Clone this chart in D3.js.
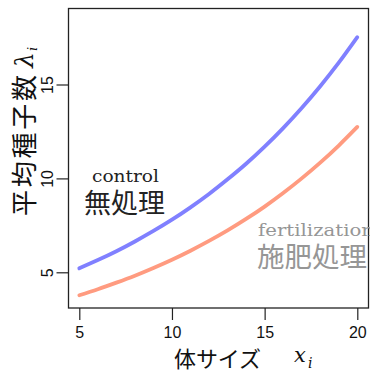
<!DOCTYPE html>
<html>
<head>
<meta charset="utf-8">
<script src="https://cdn.jsdelivr.net/npm/d3@7"></script>
<style>
  html, body { margin: 0; padding: 0; background: #fff; }
  svg { display: block; }
</style>
</head>
<body>
<script>
// Body size x (covariate) and expected seed count for each treatment
const bodySize = [5, 6, 7, 8, 9, 10, 11, 12, 13, 14, 15, 16, 17, 18, 19, 20];
const controlMean = [5.21, 5.65, 6.12, 6.64, 7.20, 7.80, 8.46, 9.17, 9.95, 10.78, 11.69, 12.68, 13.75, 14.91, 16.16, 17.52];
const fertilizedMean = [3.78, 4.10, 4.45, 4.82, 5.23, 5.67, 6.15, 6.67, 7.23, 7.84, 8.50, 9.22, 10.00, 10.84, 11.75, 12.74];
const xTicks = [5, 10, 15, 20];
const yTicks = [5, 10, 15];

const W = 370, H = 373;
const plot = { left: 68.5, top: 8.5, right: 368.5, bottom: 308 };

const svg = d3.select("body").append("svg")
  .attr("width", W).attr("height", H);

const x = d3.scaleLinear().domain([5, 20]).range([79.3, 357.3]);
const y = d3.scaleLinear().domain([5, 15]).range([272.3, 84.5]);

const JP = "Noto Sans CJK JP, Noto Sans CJK SC, sans-serif";
const SANS = "Liberation Sans, Arial, sans-serif";
const SERIF = "DejaVu Serif, Liberation Serif, serif";

// Curves
const line = d3.line()
  .x((d, i) => x(bodySize[i]))
  .y(d => y(d))
  .curve(d3.curveNatural);

svg.append("path").datum(controlMean)
  .attr("d", line)
  .attr("fill", "none")
  .attr("stroke", "#8080ff")
  .attr("stroke-width", 3.8)
  .attr("stroke-linecap", "round");

svg.append("path").datum(fertilizedMean)
  .attr("d", line)
  .attr("fill", "none")
  .attr("stroke", "#ff9b80")
  .attr("stroke-width", 3.8)
  .attr("stroke-linecap", "round");

// Frame
svg.append("rect")
  .attr("x", plot.left).attr("y", plot.top)
  .attr("width", plot.right - plot.left)
  .attr("height", plot.bottom - plot.top)
  .attr("fill", "none")
  .attr("stroke", "#222")
  .attr("stroke-width", 1.3);

// X axis
const xAxis = svg.append("g")
  .attr("transform", `translate(0,${plot.bottom})`)
  .call(d3.axisBottom(x).tickValues(xTicks).tickSize(12).tickPadding(6).tickFormat(d3.format("d")));
xAxis.select(".domain").remove();
xAxis.selectAll(".tick line").attr("stroke", "#222").attr("stroke-width", 1.2);
xAxis.selectAll(".tick text")
  .attr("font-family", SANS).attr("font-size", 16).attr("fill", "#111")
  .attr("dy", null).attr("y", 30.3);

// Y axis (labels rotated along the axis)
const yAxis = svg.append("g")
  .attr("transform", `translate(${plot.left},0)`)
  .call(d3.axisLeft(y).tickValues(yTicks).tickSize(12).tickFormat(d3.format("d")));
yAxis.select(".domain").remove();
yAxis.selectAll(".tick line").attr("stroke", "#222").attr("stroke-width", 1.2);
yAxis.selectAll(".tick text")
  .attr("font-family", SANS).attr("font-size", 16).attr("fill", "#111")
  .attr("x", null).attr("dy", null)
  .attr("text-anchor", "middle")
  .attr("transform", "translate(-15.2,0) rotate(-90)");

// X axis title
svg.append("text")
  .attr("x", 174).attr("y", 357)
  .attr("dominant-baseline", "central")
  .attr("font-family", JP).attr("font-size", 22).attr("fill", "#111")
  .attr("textLength", 87).attr("lengthAdjust", "spacing")
  .text("体サイズ");
svg.append("text")
  .attr("x", 294).attr("y", 362)
  .attr("font-family", SERIF).attr("font-style", "italic")
  .attr("font-size", 21).attr("fill", "#111")
  .text("x");
svg.append("text")
  .attr("x", 308).attr("y", 368)
  .attr("font-family", SERIF).attr("font-style", "italic")
  .attr("font-size", 14).attr("fill", "#111")
  .text("i");

// Y axis title (rotated)
const yt = svg.append("g").attr("transform", "rotate(-90)");
yt.append("text")
  .attr("x", -216).attr("y", 22)
  .attr("dominant-baseline", "central")
  .attr("font-family", JP).attr("font-size", 26).attr("fill", "#111")
  .attr("textLength", 141).attr("lengthAdjust", "spacing")
  .text("平均種子数");
yt.append("text")
  .attr("x", -68).attr("y", 33)
  .attr("font-family", SERIF).attr("font-style", "italic")
  .attr("font-size", 25).attr("fill", "#111")
  .text("λ");
yt.append("text")
  .attr("x", -51).attr("y", 37)
  .attr("font-family", SERIF).attr("font-style", "italic")
  .attr("font-size", 13).attr("fill", "#111")
  .text("i");

// Treatment labels
svg.append("text")
  .attr("x", 92).attr("y", 182)
  .attr("font-family", SERIF).attr("font-size", 16).attr("fill", "#222")
  .attr("textLength", 67).attr("lengthAdjust", "spacingAndGlyphs")
  .text("control");
svg.append("text")
  .attr("x", 84).attr("y", 201)
  .attr("dominant-baseline", "central")
  .attr("font-family", JP).attr("font-size", 27).attr("fill", "#222")
  .text("無処理");

svg.append("text")
  .attr("x", 258).attr("y", 236)
  .attr("font-family", SERIF).attr("font-size", 17).attr("fill", "#969696")
  .attr("textLength", 116).attr("lengthAdjust", "spacingAndGlyphs")
  .text("fertilization");
svg.append("text")
  .attr("x", 257).attr("y", 255)
  .attr("dominant-baseline", "central")
  .attr("font-family", JP).attr("font-size", 27.5).attr("fill", "#969696")
  .text("施肥処理");
</script>
</body>
</html>
